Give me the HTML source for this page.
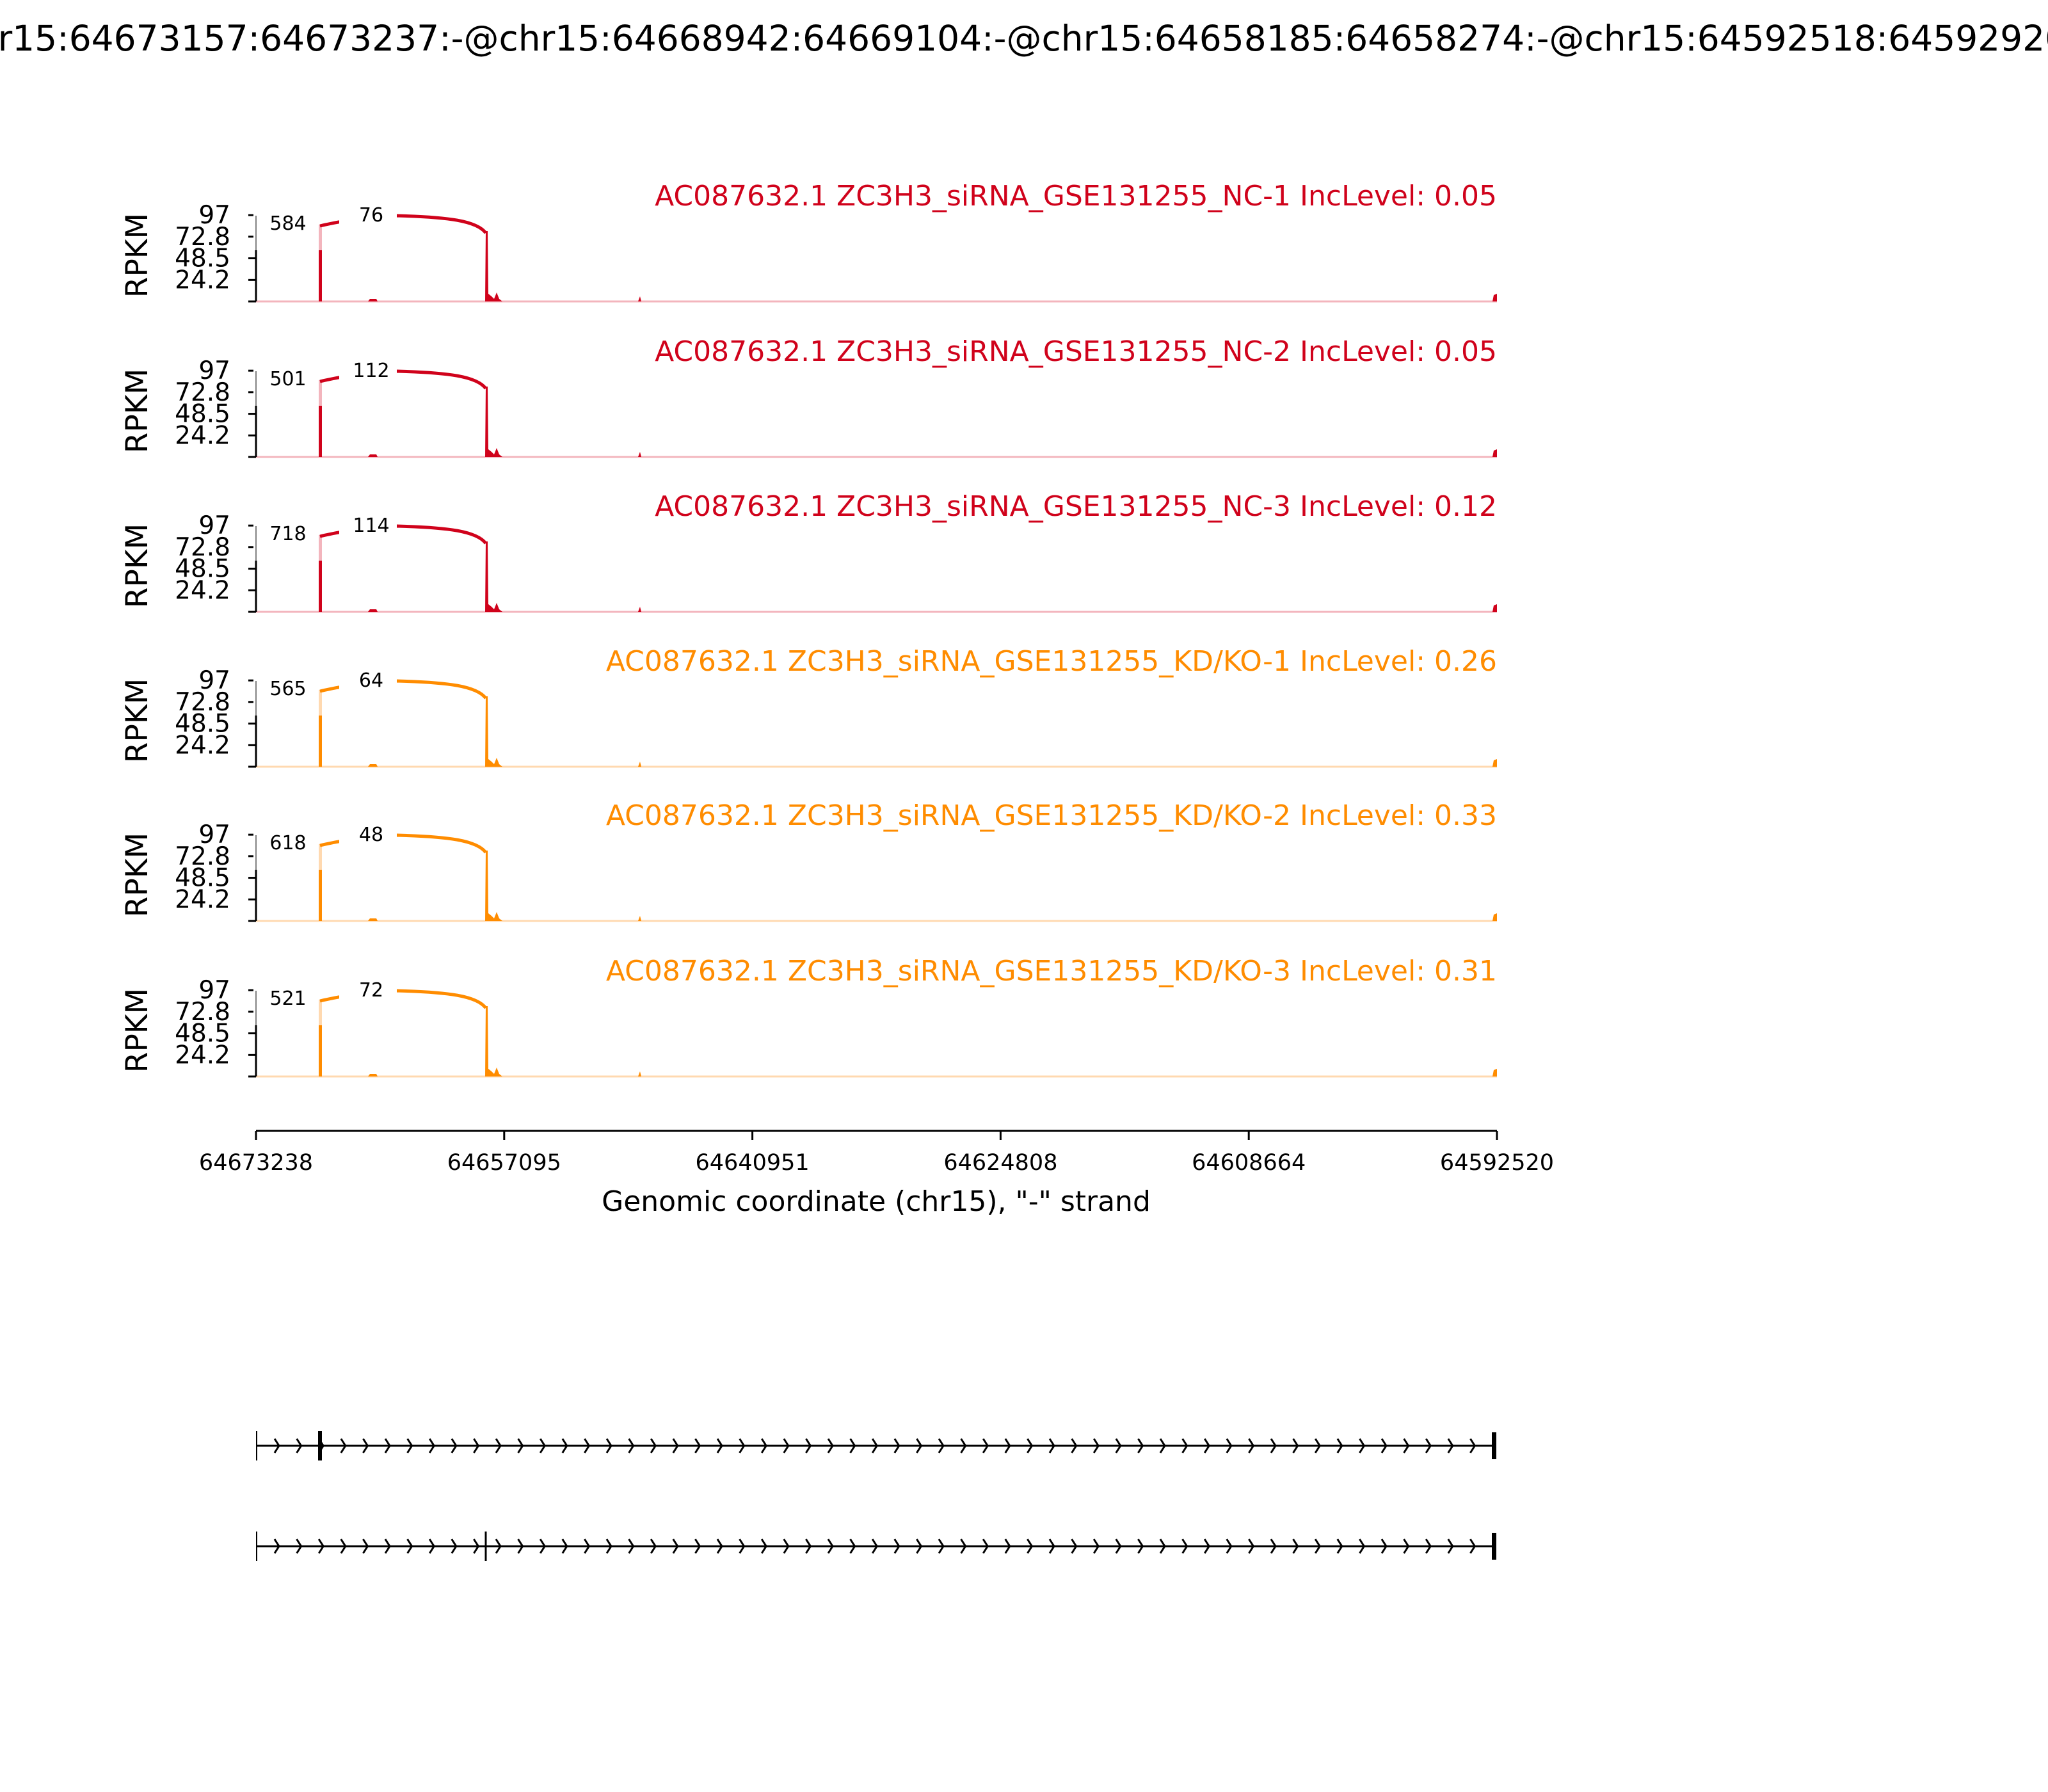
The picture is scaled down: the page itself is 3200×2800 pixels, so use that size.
<!DOCTYPE html>
<html><head><meta charset="utf-8"><style>
html,body{margin:0;padding:0;background:#fff;width:3200px;height:2800px;overflow:hidden}
svg{display:block;font-family:"DejaVu Sans","Liberation Sans",sans-serif}
</style></head><body>
<svg id="s" width="3200" height="2800" viewBox="0 0 3200 2800" xmlns="http://www.w3.org/2000/svg">
<rect width="3200" height="2800" fill="#fff"/>
<text x="1600" y="79" font-size="55" text-anchor="middle">chr15:64673157:64673237:-@chr15:64668942:64669104:-@chr15:64658185:64658274:-@chr15:64592518:64592920:-</text>
<g id="g"></g>
</svg>
<script>
var g=document.getElementById('g'),h='';
var panels=[
['#d0021b','AC087632.1 ZC3H3_siRNA_GSE131255_NC-1 IncLevel: 0.05','584','76'],
['#d0021b','AC087632.1 ZC3H3_siRNA_GSE131255_NC-2 IncLevel: 0.05','501','112'],
['#d0021b','AC087632.1 ZC3H3_siRNA_GSE131255_NC-3 IncLevel: 0.12','718','114'],
['#ff8c00','AC087632.1 ZC3H3_siRNA_GSE131255_KD/KO-1 IncLevel: 0.26','565','64'],
['#ff8c00','AC087632.1 ZC3H3_siRNA_GSE131255_KD/KO-2 IncLevel: 0.33','618','48'],
['#ff8c00','AC087632.1 ZC3H3_siRNA_GSE131255_KD/KO-3 IncLevel: 0.31','521','72']];
var bases=[471,714,956,1198,1439,1682];
panels.forEach(function(p,i){
 var b=bases[i],c=p[0],pale=c=='#d0021b'?'#f3b5bd':'#ffd9b0';
 h+='<line x1="400" y1="'+b+'" x2="2339" y2="'+b+'" stroke="'+pale+'" stroke-width="3"/>';
 h+='<rect x="498" y="'+(b-120)+'" width="5" height="120" fill="'+pale+'"/>';
 h+='<rect x="498" y="'+(b-80)+'" width="5" height="80" fill="'+c+'"/>';
 h+='<path d="M575 '+b+' L578 '+(b-4)+' L588 '+(b-4)+' L590 '+b+'Z" fill="'+c+'"/>';
 h+='<path d="M758 '+b+' L759 '+(b-110)+' L762 '+(b-110)+' L763 '+(b-12)+' L768 '+(b-8)+' L772 '+(b-4)+' L776 '+(b-14)+' L780 '+(b-4)+' L785 '+b+'Z" fill="'+c+'"/>';
 h+='<path d="M997 '+b+' L1000 '+(b-8)+' L1002 '+b+'Z" fill="'+c+'"/>';
 h+='<path d="M2332 '+b+' L2334 '+(b-10)+' L2339 '+(b-12)+' L2339 '+b+'Z" fill="'+c+'"/>';
 var t=b-134;
 h+='<path d="M500 '+(t+16)+' Q560 '+(t+2)+' 620 '+t+' C700 '+(t+2)+' 745 '+(t+8)+' 759 '+(t+27)+'" fill="none" stroke="'+c+'" stroke-width="5"/>';
 h+='<rect x="405" y="'+(t-6)+'" width="88" height="40" fill="#fff"/>';
 h+='<rect x="530" y="'+(t-22)+'" width="90" height="40" fill="#fff"/>';
 h+='<text x="450" y="'+(t+22)+'" font-size="30" text-anchor="middle">'+p[2]+'</text>';
 h+='<text x="580" y="'+(t+9)+'" font-size="30" text-anchor="middle">'+p[3]+'</text>';
 h+='<line x1="400" y1="'+b+'" x2="400" y2="'+(b-80)+'" stroke="#000" stroke-width="3"/>';
 h+='<line x1="400" y1="'+(b-80)+'" x2="400" y2="'+(b-134)+'" stroke="#000" stroke-width="1"/>';
 var tk=[[0,''],[24.2,'24.2'],[48.5,'48.5'],[72.8,'72.8'],[97,'97']];
 tk.forEach(function(k){var y=b-k[0]*1.39;
  h+='<line x1="388" y1="'+y+'" x2="'+(k[0]<50?400:396)+'" y2="'+y+'" stroke="#000" stroke-width="3"/>';
  if(k[1])h+='<text x="360" y="'+(y+13)+'" font-size="39" text-anchor="end">'+k[1]+'</text>';});
 h+='<text transform="translate(230 '+(b-72)+') rotate(-90)" font-size="47" text-anchor="middle">RPKM</text>';
 h+='<text x="2339" y="'+(b-150)+'" font-size="44" text-anchor="end" fill="'+c+'">'+p[1]+'</text>';
});
h+='<line x1="400" y1="1767" x2="2339" y2="1767" stroke="#000" stroke-width="3"/>';
var xl=['64673238','64657095','64640951','64624808','64608664','64592520'];
xl.forEach(function(l,i){var x=400+i*387.8;
 h+='<line x1="'+x+'" y1="1767" x2="'+x+'" y2="1781" stroke="#000" stroke-width="3"/>';
 h+='<text x="'+x+'" y="1828" font-size="35" text-anchor="middle">'+l+'</text>';});
h+='<text x="1369" y="1892" font-size="44" text-anchor="middle">Genomic coordinate (chr15), "-" strand</text>';
[[2259,500,6],[2416,759,3]].forEach(function(r){var y=r[0];
 h+='<line x1="400" y1="'+y+'" x2="2335" y2="'+y+'" stroke="#000" stroke-width="3"/>';
 h+='<line x1="401" y1="'+(y-23)+'" x2="401" y2="'+(y+23)+'" stroke="#000" stroke-width="2"/>';
 h+='<line x1="'+r[1]+'" y1="'+(y-23)+'" x2="'+r[1]+'" y2="'+(y+23)+'" stroke="#000" stroke-width="'+r[2]+'"/>';
 h+='<rect x="2331" y="'+(y-21)+'" width="7" height="42" fill="#000"/>';
 for(var x=436;x<2330;x+=34.6){h+='<polyline points="'+(x-7)+','+(y-11)+' '+x+','+y+' '+(x-7)+','+(y+11)+'" fill="none" stroke="#000" stroke-width="3"/>';}
});
g.innerHTML=h;
</script>
</body></html>
